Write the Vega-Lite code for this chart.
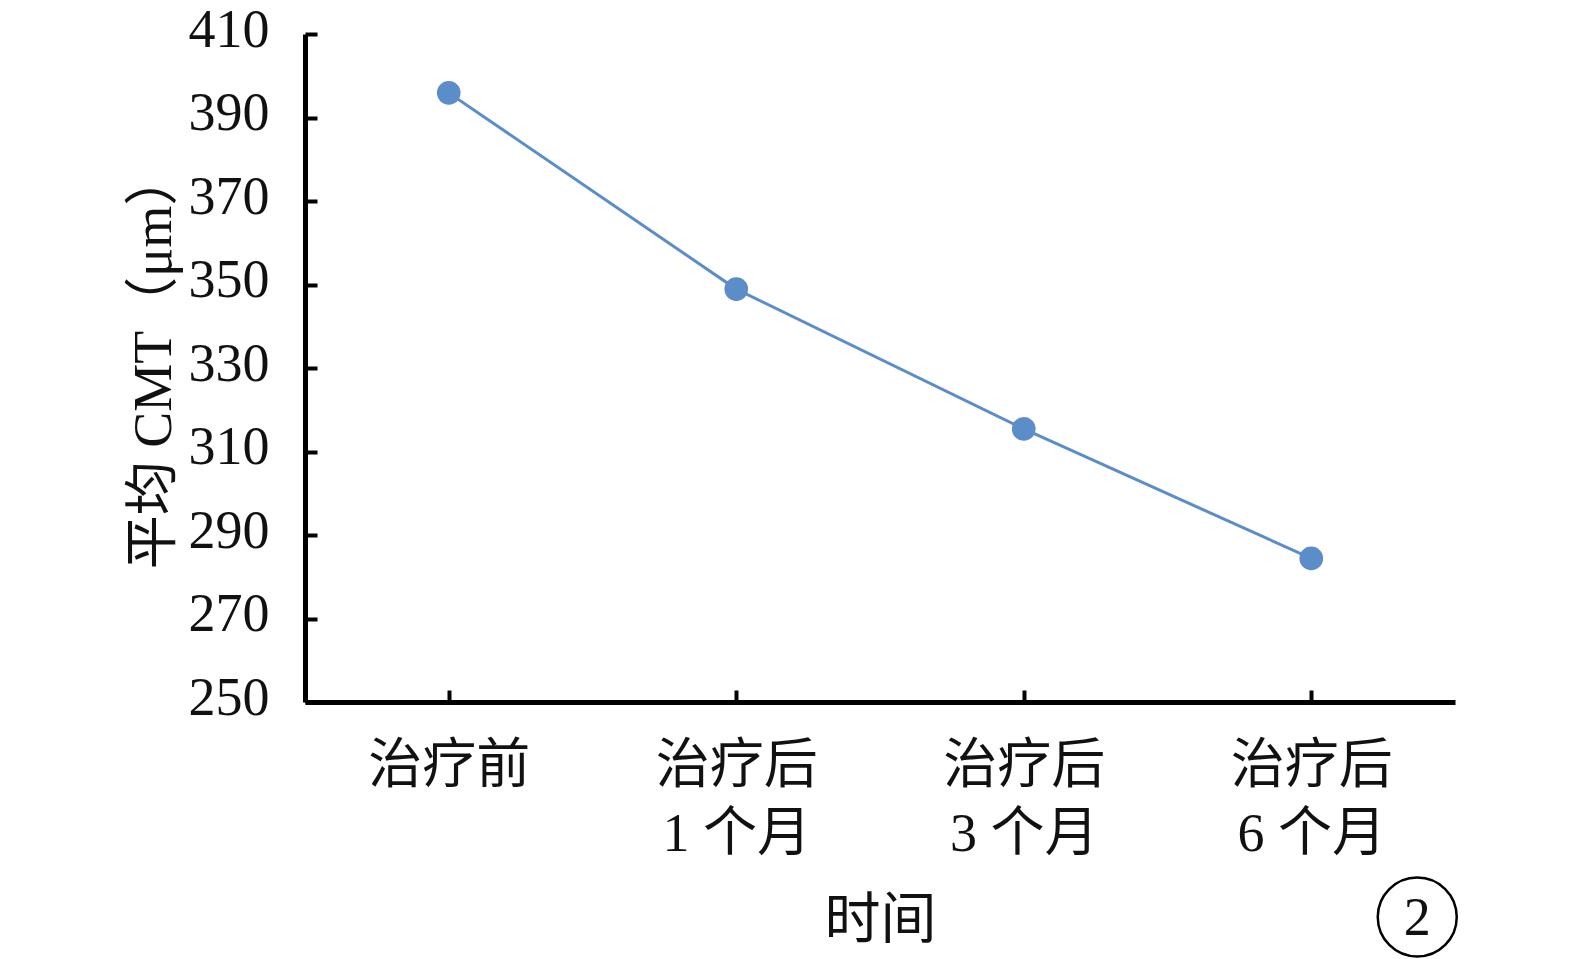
{
  "$schema": "https://vega.github.io/schema/vega-lite/v6.json",
  "width": 1150,
  "height": 668,
  "autosize": {"type": "none"},
  "padding": {"left": 305, "top": 34, "right": 120, "bottom": 257},
  "background": "white",
  "config": {
    "font": "'Liberation Serif', 'Noto Sans CJK SC', serif",
    "view": {"stroke": null},
    "axis": {
      "grid": false,
      "domainColor": "#000000",
      "domainWidth": 5,
      "tickColor": "#000000",
      "tickWidth": 4,
      "tickSize": -12,
      "labelColor": "#111111",
      "labelFontSize": 54,
      "labelFont": "'Liberation Serif', 'Noto Sans CJK SC', serif",
      "titleFont": "'Liberation Serif', 'Noto Sans CJK SC', serif",
      "titleFontSize": 54,
      "titleFontWeight": "normal",
      "titleColor": "#111111"
    }
  },
  "datasets": {
    "main": [
      {"time": "治疗前", "cmt": 395.9},
      {"time": "治疗后\n1 个月", "cmt": 348.9},
      {"time": "治疗后\n3 个月", "cmt": 315.4},
      {"time": "治疗后\n6 个月", "cmt": 284.4}
    ],
    "note": [
      {"time": "治疗后\n6 个月", "y": 198.5, "label": "2"}
    ]
  },
  "layer": [
    {
      "data": {"name": "main"},
      "mark": {"type": "line", "color": "#5B8DC9", "strokeWidth": 3},
      "encoding": {
        "x": {
          "field": "time", "type": "nominal", "sort": null,
          "scale": {"type": "point", "padding": 0.5},
          "axis": {
            "title": "时间",
            "titleFontSize": 56,
            "labelAngle": 0,
            "labelPadding": 49,
            "labelLineHeight": 68,
            "labelBaseline": "top",
            "labelExpr": "split(datum.label, '\\n')",
            "titlePadding": 32
          }
        },
        "y": {
          "field": "cmt", "type": "quantitative",
          "scale": {"domain": [250, 410], "zero": false, "nice": false},
          "axis": {
            "title": "平均 CMT（μm）",
            "values": [250, 270, 290, 310, 330, 350, 370, 390, 410],
            "labelPadding": 48,
            "labelOffset": -4,
            "titlePadding": 7,
            "titleY": 326
          }
        }
      }
    },
    {
      "data": {"name": "main"},
      "mark": {"type": "point", "filled": true, "opacity": 1, "color": "#5B8DC9", "size": 560},
      "encoding": {
        "x": {"field": "time", "type": "nominal", "sort": null},
        "y": {"field": "cmt", "type": "quantitative"}
      }
    },
    {
      "data": {"name": "note"},
      "mark": {"type": "point", "shape": "circle", "filled": false, "stroke": "#000000", "strokeWidth": 2.5, "size": 6241, "opacity": 1, "xOffset": 106, "clip": false},
      "encoding": {
        "x": {"field": "time", "type": "nominal", "sort": null},
        "y": {"field": "y", "type": "quantitative"}
      }
    },
    {
      "data": {"name": "note"},
      "mark": {"type": "text", "fontSize": 54, "color": "#111111", "align": "center", "baseline": "middle", "xOffset": 106, "dy": 2},
      "encoding": {
        "x": {"field": "time", "type": "nominal", "sort": null},
        "y": {"field": "y", "type": "quantitative"},
        "text": {"field": "label"}
      }
    }
  ]
}
